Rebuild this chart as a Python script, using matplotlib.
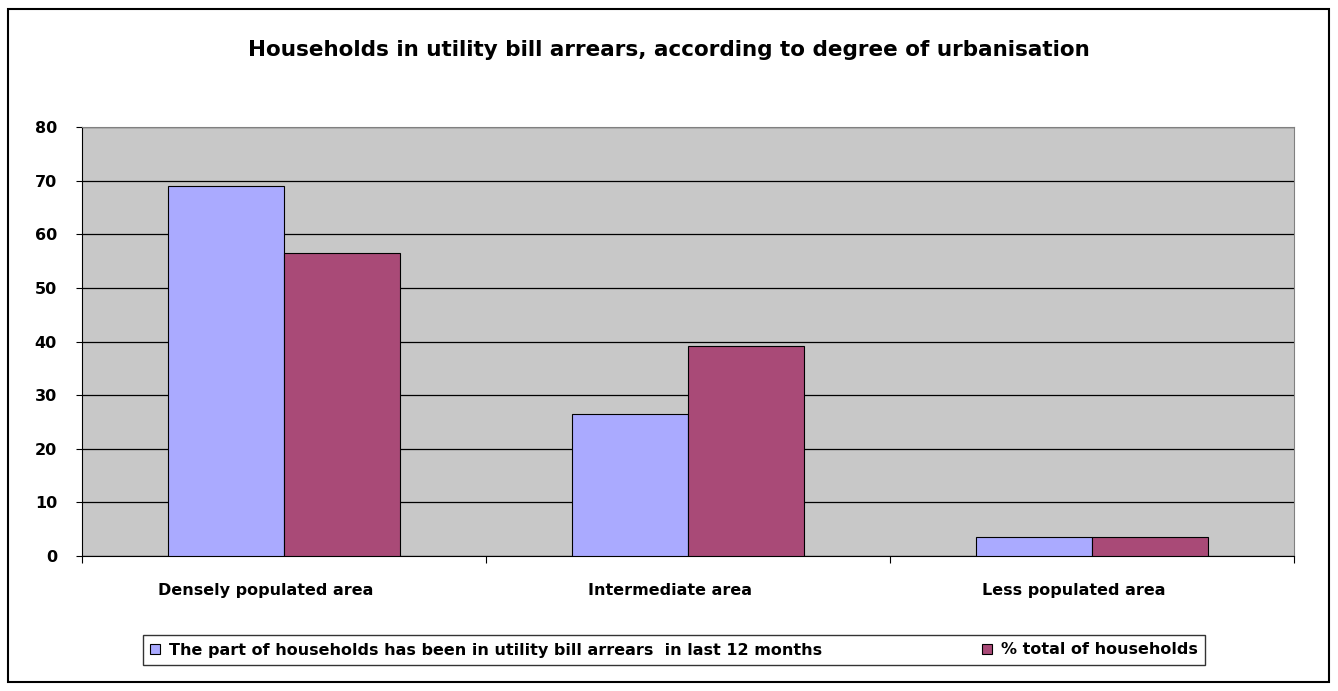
import numpy as np
import matplotlib
matplotlib.use("Agg")
import matplotlib.pyplot as plt
from matplotlib.patches import Rectangle

# datos
categorias = ["Densely populated area", "Intermediate area", "Less populated area"]
parte_hogares = [69.0, 26.5, 3.5]
total_hogares = [56.5, 39.2, 3.5]
serie_nombres = ["The part of households has been in utility bill arrears  in last 12 months",
                 "% total of households"]
yticks = [0, 10, 20, 30, 40, 50, 60, 70, 80]

plt.rcParams["font.family"] = ["DejaVu Sans"]

fig = plt.figure(figsize=(13.38, 6.91), dpi=100)
W, H = 1338, 691

# marco exterior
fig.patches.append(Rectangle((8 / W, 9 / H), 1321 / W, 673 / H, transform=fig.transFigure,
                             fill=False, edgecolor="black", linewidth=1.5))

ax = fig.add_axes([82 / W, 1 - 556 / H, (1294 - 82) / W, (556 - 127) / H])
ax.set_facecolor("#c8c8c8")

x = np.arange(len(categorias))
ancho = 0.287
ax.bar(x - ancho / 2, parte_hogares, ancho, color="#aaaaff", edgecolor="black", linewidth=0.8,
       label=serie_nombres[0], zorder=3)
ax.bar(x + ancho / 2, total_hogares, ancho, color="#a94a77", edgecolor="black", linewidth=0.8,
       label=serie_nombres[1], zorder=3)

ax.set_xlim(-0.5, 2.5)
ax.set_ylim(0, 80)
ax.set_yticks(yticks)
ax.yaxis.grid(True, color="black", linewidth=0.9, zorder=1)
ax.set_axisbelow(True)
for s in ["top", "right"]:
    ax.spines[s].set_color("#808080")
for s in ["left", "bottom"]:
    ax.spines[s].set_color("black")

ax.set_xticks([-0.5, 0.5, 1.5, 2.5])
ax.set_xticklabels([])
ax.tick_params(axis="x", direction="out", length=5, color="black")
ax.tick_params(axis="y", direction="out", length=4, color="black", pad=14)
for lbl in ax.get_yticklabels():
    lbl.set_fontweight("bold")
    lbl.set_fontsize(11.5)
# etiquetas de categoria un poco corridas a la izquierda, como en el original
for i, c in enumerate(categorias):
    ax.text(x[i] - 0.045, -6.5, c, ha="center", va="center", fontsize=11.5, fontweight="bold")

fig.text(0.5, 1 - 50 / H, "Households in utility bill arrears, according to degree of urbanisation",
         ha="center", va="center", fontsize=15.5, fontweight="bold")

# leyenda
leg = fig.legend(loc="center", bbox_to_anchor=((143 + 1205) / 2 / W, 1 - 650 / H), ncol=2,
                 frameon=True, fancybox=False, edgecolor="black",
                 prop={"weight": "bold", "size": 11.5}, handlelength=0.6, handleheight=0.6,
                 columnspacing=10, borderpad=0.45, handletextpad=0.6)
leg.get_frame().set_linewidth(1.0)

fig.savefig("out.png", dpi=100)
